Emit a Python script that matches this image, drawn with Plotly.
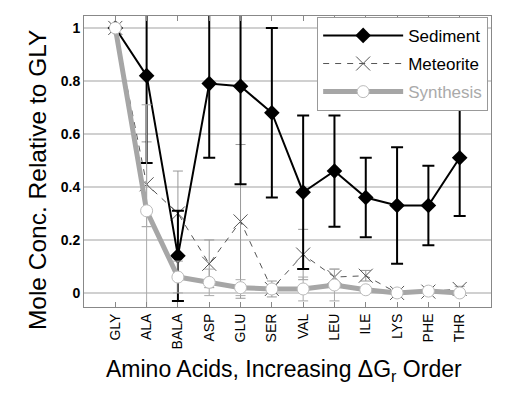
import plotly.graph_objects as go

categories = ["GLY", "ALA", "BALA", "ASP", "GLU", "SER", "VAL", "LEU", "ILE", "LYS", "PHE", "THR"]

sediment = [1.0, 0.82, 0.14, 0.79, 0.78, 0.68, 0.38, 0.46, 0.36, 0.33, 0.33, 0.51]
sediment_err = [None, 0.33, 0.17, 0.28, 0.37, 0.32, 0.29, 0.21, 0.15, 0.22, 0.15, 0.22]

meteorite = [1.0, 0.41, 0.30, 0.11, 0.27, 0.015, 0.145, 0.06, 0.065, 0.0, 0.005, 0.015]
meteorite_err = [None, 0.16, 0.16, 0.09, 0.29, 0.03, 0.095, 0.03, 0.02, 0.01, 0.01, 0.01]

synthesis = [1.0, 0.31, 0.06, 0.04, 0.02, 0.015, 0.015, 0.03, 0.012, 0.0, 0.007, 0.0]
synthesis_err = [None, 0.40, 0.06, 0.05, 0.03, 0.01, 0.045, 0.06, 0.01, 0.01, 0.01, 0.01]

y_ticks = [0, 0.2, 0.4, 0.6, 0.8, 1]
y_tick_labels = ["0", "0.2", "0.4", "0.6", "0.8", "1"]

fig = go.Figure()

# drawing order: meteorite under sediment, synthesis on top; legend order set by legendrank
fig.add_trace(go.Scatter(
    x=categories, y=meteorite, name="Meteorite", mode="lines+markers",
    legendgroup="b", legendrank=2,
    line=dict(color="#555555", width=1, dash="6px,6px"),
    marker=dict(symbol="x-thin-open", size=14, line=dict(color="#666666", width=1)),
    error_y=dict(type="data", array=meteorite_err, symmetric=True,
                 color="#999999", thickness=1, width=5),
))

fig.add_trace(go.Scatter(
    x=categories, y=sediment, name="Sediment", mode="lines+markers",
    legendgroup="a", legendrank=1,
    line=dict(color="black", width=2),
    marker=dict(symbol="diamond", size=12, color="black"),
    error_y=dict(type="data", array=sediment_err, symmetric=True,
                 color="black", thickness=2, width=6),
))

fig.add_trace(go.Scatter(
    x=categories, y=synthesis, name="<span style='color:#aaaaaa'>Synthesis</span>",
    mode="lines+markers",
    legendgroup="c", legendrank=3,
    line=dict(color="#a6a6a6", width=5),
    marker=dict(symbol="circle", size=12, color="white", line=dict(color="#bbbbbb", width=1)),
    error_y=dict(type="data", array=synthesis_err, symmetric=True,
                 color="#aaaaaa", thickness=1, width=5),
))

# page body has an 8px margin: figure is shrunk so the plot lands where the reference has it
fig.update_layout(
    width=521, height=388,
    margin=dict(l=76, r=38, t=8, b=89),
    paper_bgcolor="white", plot_bgcolor="white",
    font=dict(family="Liberation Sans, Arial, sans-serif", color="black"),
    showlegend=True,
    legend=dict(
        x=0.993, y=0.997, xanchor="right", yanchor="top",
        bgcolor="white", bordercolor="#999999", borderwidth=1,
        font=dict(size=17),
        itemwidth=80,
        traceorder="grouped",
        tracegroupgap=3,
    ),
    annotations=[
        dict(text="Mole Conc. Relative to GLY", xref="paper", yref="paper",
             x=0, y=0.436, xshift=-47, xanchor="center", yanchor="middle",
             textangle=-90, showarrow=False, font=dict(size=24.5)),
        dict(text="Amino Acids, Increasing ΔG<sub>r</sub> Order", xref="paper", yref="paper",
             x=0.4926, y=0, yshift=-63, xanchor="center", yanchor="middle",
             showarrow=False, font=dict(size=23)),
    ],
)

fig.update_xaxes(
    type="category", range=[-1, 12], automargin=False,
    showgrid=False, showline=True, linecolor="#888888", linewidth=1, mirror="ticks",
    ticks="inside", ticklen=5, tickcolor="#888888",
    tickangle=-90, tickfont=dict(size=14),
)

fig.update_yaxes(
    range=[-0.053, 1.045], automargin=False,
    tickvals=y_ticks,
    ticktext=["<b>%s</b>" % t for t in y_tick_labels],
    showgrid=True, gridcolor="#d0d0d0", gridwidth=1.5,
    zeroline=False,
    showline=True, linecolor="#888888", linewidth=1, mirror=True,
    ticks="", tickfont=dict(size=14),
)

fig.write_html("out.html")
